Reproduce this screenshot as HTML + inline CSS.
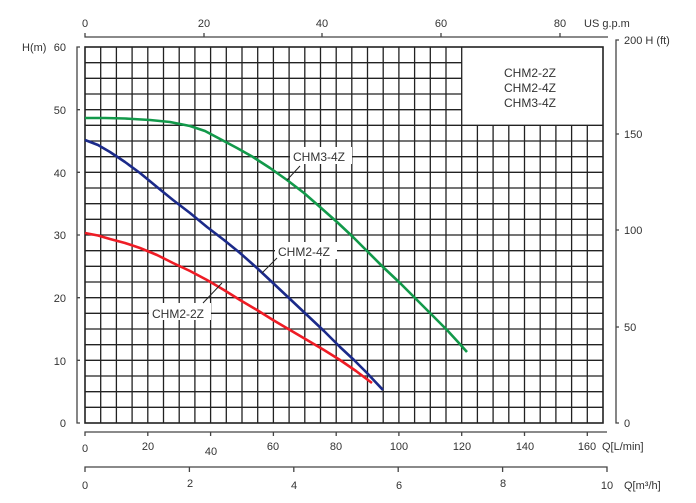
<!DOCTYPE html>
<html><head><meta charset="utf-8"><style>
html,body{margin:0;padding:0;background:#fff;}
svg{display:block;font-family:"Liberation Sans",sans-serif;}
</style></head><body>
<svg width="696" height="503" viewBox="0 0 696 503" xmlns="http://www.w3.org/2000/svg">
<g stroke="#222" stroke-width="1.3" fill="none">
<path d="M100.7 47V423M116.4 47V423M132.1 47V423M147.8 47V423M163.5 47V423M179.2 47V423M194.9 47V423M210.6 47V423M226.3 47V423M242 47V423M257.7 47V423M273.4 47V423M289.1 47V423M304.8 47V423M320.5 47V423M336.2 47V423M351.8 47V423M367.5 47V423M383.2 47V423M398.9 47V423M414.6 47V423M430.3 47V423M446 47V423M461.7 47V423M477.4 125.3V423M493.1 125.3V423M508.8 125.3V423M524.5 125.3V423M540.2 125.3V423M555.9 125.3V423M571.6 125.3V423M587.3 125.3V423"/>
<path d="M85 62.7H462M85 78.3H462M85 94H462M85 109.7H462M85 125.3H603M85 141H603M85 156.7H603M85 172.3H603M85 188H603M85 203.7H603M85 219.3H603M85 235H603M85 250.7H603M85 266.3H603M85 282H603M85 297.7H603M85 313.3H603M85 329H603M85 344.7H603M85 360.3H603M85 376H603M85 391.7H603M85 407.3H603"/>
</g>
<g font-size="12" fill="#333" text-anchor="middle">
<text x="530" y="77">CHM2-2Z</text><text x="530" y="92">CHM2-4Z</text><text x="530" y="107">CHM3-4Z</text>
</g>
<rect x="85" y="47" width="518" height="376" fill="none" stroke="#222" stroke-width="1.6"/>
<polyline fill="none" stroke="#12994a" stroke-width="2.6" stroke-linejoin="round" points="85,118 105,118 125,118.5 150,120 170,122 190,126 205,131 222,140 237,148 253,157 270,168 287,180 304,193 320,207 337,222 353,237 368,252 383,267 400,283 417,300 432,315 447,330 458,342 467,352"/>
<polyline fill="none" stroke="#1b2a8a" stroke-width="2.6" stroke-linejoin="round" points="85,140 98,145 110,152 125,162 140,173 157,187 173,200 190,213 207,227 224,240 240,253 257,268 273,283 290,299 307,315 324,331 340,347 354,360 367,373 383,390"/>
<polyline fill="none" stroke="#ee1c25" stroke-width="2.6" stroke-linejoin="round" points="85,233 98,235.5 110,239 125,243 140,248 157,255 173,263 190,271 207,280 224,290 240,300 257,310 273,320 290,330 307,340 324,350 340,360 356,371 372,383"/>
<rect x="290" y="147" width="62" height="17" fill="#fff"/>
<rect x="275" y="242" width="62" height="17" fill="#fff"/>
<rect x="149" y="303" width="62" height="17" fill="#fff"/>
<g stroke="#222" stroke-width="1"><line x1="287" y1="180" x2="300" y2="166"/><line x1="262" y1="273" x2="277" y2="258"/><line x1="203" y1="303" x2="222" y2="283"/></g>
<g font-size="12" fill="#333"><text x="293" y="161">CHM3-4Z</text><text x="278" y="256">CHM2-4Z</text><text x="152" y="318">CHM2-2Z</text></g>
<g stroke="#444" stroke-width="1.3" fill="none">
<polyline points="80,47 77,47 77,423 80,423"/>
<polyline points="619,40 616,40 616,423 619,423"/>
<path d="M616 134H619M616 230H619M616 327H619"/>
<polyline points="85,33 85,37 608,37"/>
<path d="M204 33V37M322 33V37M441 33V37M560 33V37"/>
<polyline points="85,436 85,432 607,432"/>
<path d="M147.8 432V436M210.6 432V436M273.4 432V436M336.2 432V436M398.9 432V436M461.7 432V436M524.5 432V436M587.3 432V436"/>
<polyline points="85,472 85,467 607,467 607,472"/>
<path d="M189.4 467V472M293.8 467V472M398.2 467V472M502.6 467V472"/>
<path d="M77 109.7H80M77 172.3H80M77 235H80M77 297.7H80M77 360.3H80"/>
</g>
<g font-size="11" fill="#333">
<text x="22" y="51">H(m)</text>
<g text-anchor="end"><text x="66" y="51">60</text><text x="66" y="114">50</text><text x="66" y="177">40</text><text x="66" y="239">30</text><text x="66" y="302">20</text><text x="66" y="365">10</text><text x="66" y="427">0</text></g>
<text x="624" y="44">200  H  (ft)</text><text x="624" y="138">150</text><text x="624" y="234">100</text><text x="624" y="331">50</text><text x="624" y="427">0</text>
<g text-anchor="middle"><text x="85" y="27">0</text><text x="204" y="27">20</text><text x="322" y="27">40</text><text x="441" y="27">60</text><text x="560" y="27">80</text></g>
<text x="584" y="27">US  g.p.m</text>
<g text-anchor="middle"><text x="85" y="452">0</text><text x="148" y="450">20</text><text x="211" y="455">40</text><text x="273" y="450">60</text><text x="336" y="450">80</text><text x="399" y="450">100</text><text x="462" y="450">120</text><text x="525" y="450">140</text><text x="587" y="450">160</text>
<text x="85" y="489">0</text><text x="190" y="487">2</text><text x="294" y="489">4</text><text x="399" y="489">6</text><text x="503" y="487">8</text><text x="607" y="489">10</text></g>
<text x="602" y="450">Q[L/min]</text>
<text x="624" y="489">Q[m³/h]</text>
</g>
</svg>
</body></html>
